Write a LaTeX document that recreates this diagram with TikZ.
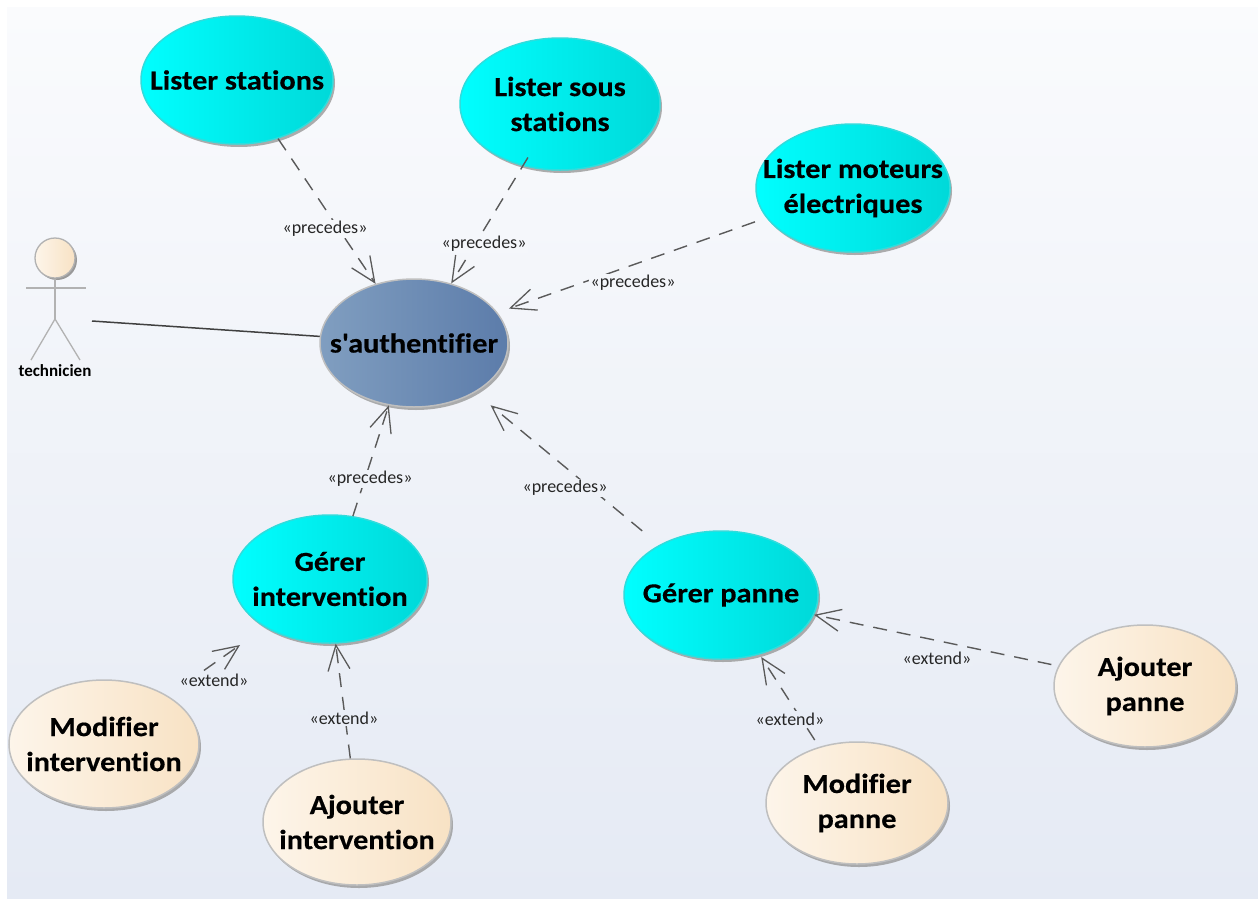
\documentclass[tikz,border=0pt]{standalone}
\usepackage{fontspec}
\setmainfont{Carlito}[Ligatures={CommonOff,TeXOff}]
\newfontfamily\casefont{Carlito}[Ligatures={CommonOff,TeXOff},FakeStretch=1.1,BoldFeatures={FakeBold=0.4}]
\usetikzlibrary{shapes.geometric,arrows.meta}
\definecolor{bgtop}{HTML}{FAFBFD}
\definecolor{bgbot}{HTML}{E5EAF4}
\definecolor{edgecol}{HTML}{5A5A5A}
\definecolor{cyanedge}{HTML}{30DCDC}
\newcommand\ctr[2][0]{\raisebox{-#1pt}{\makebox[0pt]{#2}}}
\tikzset{
  x=1pt,y=-1pt,
  usecase/.style={ellipse,inner sep=0pt,draw=black!25,line width=1.5pt,align=center,
    font=\casefont\fontsize{27.5}{35}\selectfont\bfseries,text=black,
    preaction={draw=none,fill=black!40,opacity=.8,transform canvas={shift={(2pt,-3pt)}}}},
  cyancase/.style={usecase,draw=cyanedge,left color=cyan,right color=cyan!85!black},
  creamcase/.style={usecase,left color={rgb,255:red,253;green,245;blue,234},right color={rgb,255:red,248;green,226;blue,196}},
  dep/.style={draw=edgecol,line width=1.4pt,dash pattern=on 14pt off 10pt,
    -{Straight Barb[length=25pt,width=22pt,line width=1.3pt]}},
  deplabel/.style={inner sep=1.5pt,font=\fontsize{18}{20}\selectfont,text=black!85},
  stick/.style={draw=black!30,line width=1.3pt},
}
\begin{document}
\begin{tikzpicture}
\useasboundingbox (0,0) rectangle (1258,900);
\fill[white] (0,0) rectangle (1258,900);
\shade[top color=bgtop,bottom color=bgbot] (7,7) rectangle (1258,898);
% use cases
\node[cyancase,minimum width=192pt,minimum height=128pt] (ls) at (237,80) {\ctr{Lister stations}};
\node[cyancase,minimum width=200pt,minimum height=132pt] (lss) at (560,104) {\ctr{Lister sous}\\\ctr{stations}};
\node[cyancase,minimum width=194pt,minimum height=128pt] (lm) at (853,188) {\ctr[3]{Lister moteurs}\\\ctr[3]{électriques}};
\node[usecase,left color={rgb,255:red,128;green,158;blue,192},right color={rgb,255:red,92;green,124;blue,170},minimum width=188pt,minimum height=128pt] (auth) at (414,343) {\ctr{s'authentifier}};
\node[cyancase,minimum width=194pt,minimum height=128pt] (gi) at (330,579) {\ctr[2]{Gérer}\\\ctr[2]{intervention}};
\node[cyancase,minimum width=194pt,minimum height=128pt] (gp) at (721,595) {\ctr[2]{Gérer panne}};
\node[creamcase,minimum width=182pt,minimum height=122pt] (ap) at (1145,686) {\ctr[3]{Ajouter}\\\ctr[3]{panne}};
\node[creamcase,minimum width=182pt,minimum height=122pt] (mp) at (857,803) {\ctr[4]{Modifier}\\\ctr[4]{panne}};
\node[creamcase,minimum width=188pt,minimum height=126pt] (ai) at (357,822) {\ctr{Ajouter}\\\ctr{intervention}};
\node[creamcase,minimum width=190pt,minimum height=128pt] (mi) at (104,744) {\ctr{Modifier}\\\ctr{intervention}};
% actor
\node[circle,minimum size=40pt,inner sep=0pt,draw=black!30,line width=1.3pt,left color={rgb,255:red,253;green,245;blue,234},right color={rgb,255:red,248;green,226;blue,196},
  preaction={draw=none,fill=black!40,transform canvas={shift={(2pt,-2pt)}}}] (head) at (55,258) {};
\coordinate (hip) at (55,319);
\coordinate (armL) at (26,288);
\coordinate (armR) at (86,288);
\coordinate (legL) at (31,360);
\coordinate (legR) at (80,360);
\coordinate (assoc) at (92,321);
\draw[stick] (head) -- (hip);
\draw[stick] (armL) -- (armR);
\draw[stick] (legL) -- (hip) -- (legR);
\node[inner sep=0pt,font=\fontsize{17}{18}\selectfont\bfseries] (tech) at (55,371) {technicien};
\draw[draw=black!75,line width=1.5pt] (assoc) -- (auth.176);
% dependencies
\coordinate (gitip) at (240,645);
\draw[dep] (ls.-55.6) -- (auth.123.7);
\draw[dep,shorten <=-10pt] (lss.-121.5) -- (auth.58.5);
\draw[dep,shorten <=12pt,shorten >=12pt] (lm.199) -- (auth.20);
\draw[dep] (gi.70.7) -- (auth.248.7);
\draw[dep,shorten <=22pt,shorten >=20pt] (gp.141.9) -- (auth.-39.7);
\draw[dep,shorten <=7pt] (ap.167.4) -- (gp.-12.2);
\draw[dep,shorten <=8pt,shorten >=3pt] (mp.124.9) -- (gp.-57.8);
\draw[dep] (ai.96.2) -- (gi.-85.6);
\draw[dep,shorten <=20pt] (mi.37) -- (gitip);
% labels
\node[deplabel,fill=bgtop!80!bgbot] (l1) at (325,229) {«precedes»};
\node[deplabel,fill=bgtop!75!bgbot] (l2) at (484,244) {«precedes»};
\node[deplabel,fill=bgtop!70!bgbot] (l3) at (633,283) {«precedes»};
\node[deplabel,fill=bgtop!47!bgbot] (l4) at (370,479) {«precedes»};
\node[deplabel,fill=bgtop!47!bgbot] (l5) at (565,488) {«precedes»};
\node[deplabel,fill=bgtop!25!bgbot] (l6) at (214,680) {«extend»};
\node[deplabel,fill=bgtop!20!bgbot] (l7) at (344,718) {«extend»};
\node[deplabel,fill=bgtop!20!bgbot] (l8) at (790,719) {«extend»};
\node[deplabel,fill=bgtop!27!bgbot] (l9) at (937,658) {«extend»};
\end{tikzpicture}
\end{document}
